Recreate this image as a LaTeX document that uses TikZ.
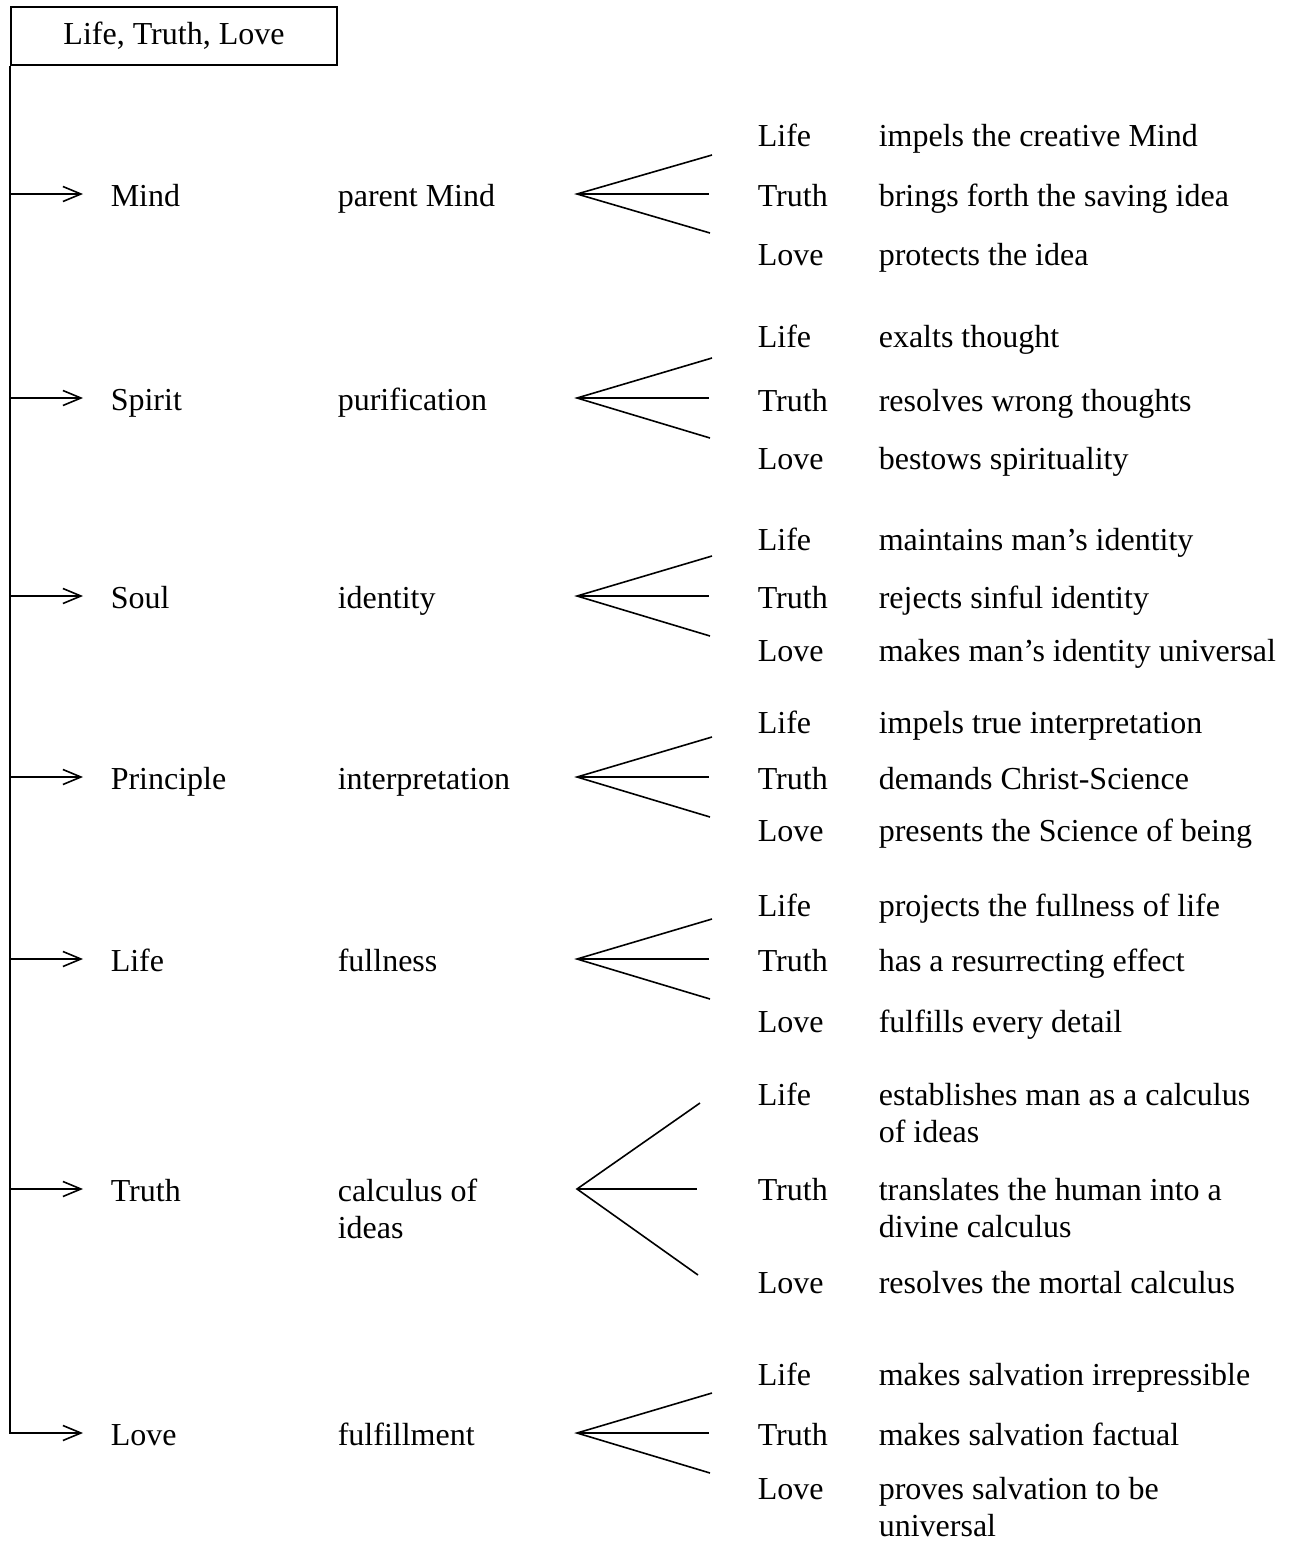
\documentclass[tikz,border=0pt]{standalone}
\usepackage{fontspec}
\setmainfont{Liberation Serif}
\usetikzlibrary{arrows.meta}

\newcommand{\twoline}[2]{\vtop{\hbox{#1}\hbox{#2}}}

\tikzset{
	txt/.style={anchor=base west, inner sep=0pt, font=\fontsize{16}{18.5}\selectfont},
	term/.style={txt, anchor=west, text height=15.2pt, text depth=3.2pt},
	arr/.style={-{Straight Barb[length=9pt,width=7.5pt]}, shorten >=13.5pt},
}

\begin{document}
\begin{tikzpicture}[x=0.5pt,y=-0.5pt,line width=0.8pt]
	\useasboundingbox (0,0) rectangle (1290,1543);
	\node[draw, minimum width=163pt, minimum height=29pt, inner sep=0pt, font=\fontsize{16}{18.5}\selectfont] (top) at (174,36) {Life, Truth, Love};
	% the seven synonyms with their fans
	\foreach \i/\y/\term/\gist/\up/\tip in {1/194/Mind/parent Mind/39/712, 2/398/Spirit/purification/40/712,
		3/596/Soul/identity/40/712, 4/777/Principle/interpretation/40/712, 5/959/Life/fullness/40/712,
		6/1189/Truth/{\twoline{calculus of}{ideas}}/86/700, 7/1433/Love/fulfillment/40/712}
	{
		\node[term] (t\i) at (110,\y) {\term};
		\node[txt] (g\i) at (337,\y+12) {\gist};
		\coordinate (f\i) at (577,\y);
		\coordinate (fa\i) at (\tip,\y-\up);
		\coordinate (fb\i) at (\tip-3,\y);
		\coordinate (fc\i) at (\tip-2,\y+\up);
		\draw (fa\i) -- (f\i) -- (fc\i);
		\draw (f\i) -- (fb\i);
	}
	% trunk and arrows
	\draw[arr] (top.south west) |- (t7.west);
	\foreach \i in {1,...,6}
	{
		\coordinate (b\i) at (11,0 |- t\i.west);
		\draw[arr] (b\i) -- (t\i.west);
	}
	% Life, Truth, Love on the right
	\foreach \y/\who/\what [count=\k] in {146/Life/impels the creative Mind, 206/Truth/brings forth the saving idea,
		265/Love/protects the idea, 347/Life/exalts thought, 411/Truth/resolves wrong thoughts,
		469/Love/bestows spirituality, 550/Life/maintains man’s identity, 608/Truth/rejects sinful identity,
		661/Love/makes man’s identity universal, 733/Life/impels true interpretation,
		789/Truth/demands Christ-Science, 841/Love/presents the Science of being,
		916/Life/projects the fullness of life, 971/Truth/has a resurrecting effect,
		1032/Love/fulfills every detail, 1105/Life/{\twoline{establishes man as a calculus}{of ideas}},
		1200/Truth/{\twoline{translates the human into a}{divine calculus}}, 1293/Love/resolves the mortal calculus,
		1385/Life/makes salvation irrepressible, 1445/Truth/makes salvation factual,
		1499/Love/{\twoline{proves salvation to be}{universal}}}
	{
		\node[txt] (s\k) at (757,\y) {\who};
		\node[txt] (d\k) at (878,\y) {\what};
	}
\end{tikzpicture}
\end{document}
